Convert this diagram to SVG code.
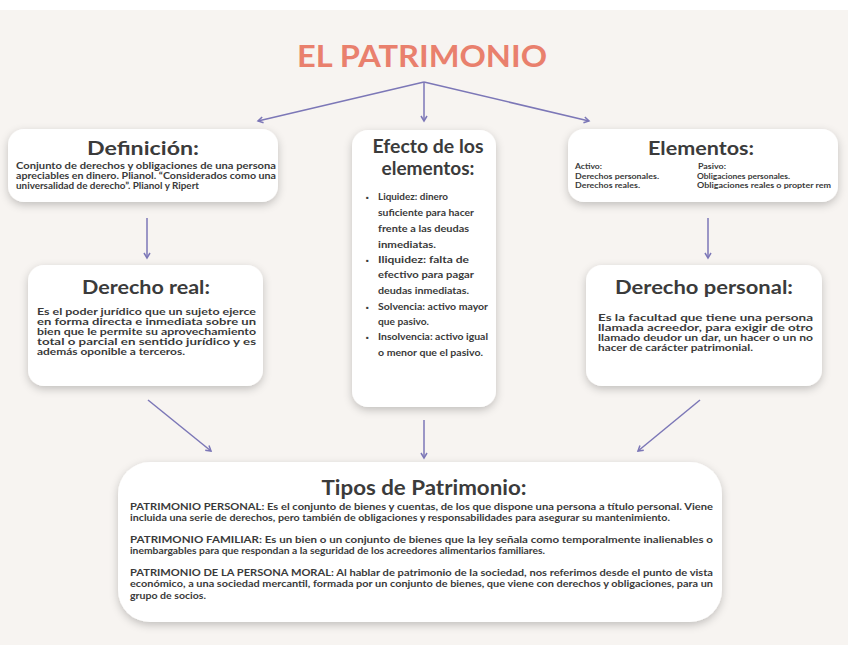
<svg xmlns="http://www.w3.org/2000/svg" width="848" height="655" viewBox="0 0 848 655">
<defs>
<filter id="sh" x="-20%" y="-20%" width="140%" height="150%">
<feDropShadow dx="0" dy="3" stdDeviation="4" flood-color="#000" flood-opacity="0.22"/>
</filter>
<marker id="ah" markerWidth="8" markerHeight="8" refX="6" refY="4" orient="auto" markerUnits="userSpaceOnUse">
<path d="M1,1 L6,4 L1,7" fill="none" stroke="#7C77B7" stroke-width="1.5"/>
</marker>
<style>
.box{fill:#fff;filter:url(#sh)}
.h{font-family:Lato,"Liberation Sans",sans-serif;font-weight:700;fill:#3b3b3b;text-anchor:middle}
.b{font-family:Lato,"Liberation Sans",sans-serif;font-weight:700;fill:#3a3a3a}
.c{fill:none;stroke:#7C77B7;stroke-width:1.5;marker-end:url(#ah)}
</style>
</defs>
<rect x="0" y="0" width="848" height="655" fill="#fff"/>
<rect x="0" y="10" width="848" height="635" fill="#F7F4F1"/>
<text x="422" y="67" font-family="Lato,'Liberation Sans',sans-serif" font-weight="700" font-size="30" fill="#E9806D" text-anchor="middle" textLength="250" lengthAdjust="spacingAndGlyphs">EL PATRIMONIO</text>

<g id="connectors">
<line class="c" x1="424" y1="82" x2="258" y2="121"/>
<line class="c" x1="424" y1="82" x2="424" y2="121"/>
<line class="c" x1="424" y1="82" x2="589" y2="121"/>
<line class="c" x1="147" y1="218" x2="147" y2="258"/>
<line class="c" x1="708" y1="218" x2="708" y2="258"/>
<line class="c" x1="148" y1="400" x2="211" y2="451"/>
<line class="c" x1="424" y1="420" x2="424" y2="458"/>
<line class="c" x1="700" y1="400" x2="638" y2="451"/>
</g>

<g id="definicion">
<rect class="box" x="8" y="129" width="270" height="73" rx="16"/>
<text class="h" x="143" y="155" font-size="19" textLength="112" lengthAdjust="spacingAndGlyphs">Definición:</text>
<text class="b" font-size="8.5"><tspan x="16" y="169" textLength="260" lengthAdjust="spacingAndGlyphs">Conjunto de derechos y obligaciones de una persona</tspan><tspan x="16" y="179" textLength="260" lengthAdjust="spacingAndGlyphs">apreciables en dinero. Plianol. “Considerados como una</tspan><tspan x="16" y="189" textLength="183" lengthAdjust="spacingAndGlyphs">universalidad de derecho”. Plianol y Ripert</tspan></text>
</g>

<g id="efecto">
<rect class="box" x="352" y="130" width="144" height="277" rx="16"/>
<text class="h" x="428" y="153" font-size="18" textLength="111" lengthAdjust="spacingAndGlyphs">Efecto de los</text>
<text class="h" x="428" y="175" font-size="18" textLength="93" lengthAdjust="spacingAndGlyphs">elementos:</text>
<g class="b" font-size="9">
<text x="366" y="200" font-size="7">▪</text>
<text x="378" y="200" textLength="70" lengthAdjust="spacingAndGlyphs">Liquidez: dinero</text>
<text x="378" y="216" textLength="96" lengthAdjust="spacingAndGlyphs">suficiente para hacer</text>
<text x="378" y="232" textLength="91" lengthAdjust="spacingAndGlyphs">frente a las deudas</text>
<text x="378" y="248" textLength="58" lengthAdjust="spacingAndGlyphs">inmediatas.</text>
<text x="366" y="263" font-size="7">▪</text>
<text x="378" y="263" textLength="91" lengthAdjust="spacingAndGlyphs">Iliquidez: falta de</text>
<text x="378" y="278" textLength="96" lengthAdjust="spacingAndGlyphs">efectivo para pagar</text>
<text x="378" y="294" textLength="91" lengthAdjust="spacingAndGlyphs">deudas inmediatas.</text>
<text x="366" y="310" font-size="7">▪</text>
<text x="378" y="310" textLength="110" lengthAdjust="spacingAndGlyphs">Solvencia: activo mayor</text>
<text x="378" y="325" textLength="51" lengthAdjust="spacingAndGlyphs">que pasivo.</text>
<text x="366" y="340" font-size="7">▪</text>
<text x="378" y="340" textLength="110" lengthAdjust="spacingAndGlyphs">Insolvencia: activo igual</text>
<text x="378" y="356" textLength="105" lengthAdjust="spacingAndGlyphs">o menor que el pasivo.</text>
</g>
</g>

<g id="elementos">
<rect class="box" x="568" y="129" width="270" height="73" rx="16"/>
<text class="h" x="701" y="155" font-size="19" textLength="106" lengthAdjust="spacingAndGlyphs">Elementos:</text>
<g class="b" font-size="8">
<text x="575" y="169" textLength="27" lengthAdjust="spacingAndGlyphs">Activo:</text>
<text x="575" y="179" textLength="84" lengthAdjust="spacingAndGlyphs">Derechos personales.</text>
<text x="575" y="188" textLength="65" lengthAdjust="spacingAndGlyphs">Derechos reales.</text>
<text x="698" y="169" textLength="28" lengthAdjust="spacingAndGlyphs">Pasivo:</text>
<text x="697" y="179" textLength="93" lengthAdjust="spacingAndGlyphs">Obligaciones personales.</text>
<text x="697" y="188" textLength="134" lengthAdjust="spacingAndGlyphs">Obligaciones reales o propter rem</text>
</g>
</g>

<g id="derecho-real">
<rect class="box" x="28" y="265" width="235" height="121" rx="16"/>
<text class="h" x="146" y="294" font-size="19" textLength="128" lengthAdjust="spacingAndGlyphs">Derecho real:</text>
<text class="b" font-size="9"><tspan x="37" y="315" textLength="219" lengthAdjust="spacingAndGlyphs">Es el poder jurídico que un sujeto ejerce</tspan><tspan x="37" y="325" textLength="219" lengthAdjust="spacingAndGlyphs">en forma directa e inmediata sobre un</tspan><tspan x="37" y="335" textLength="219" lengthAdjust="spacingAndGlyphs">bien que le permite su aprovechamiento</tspan><tspan x="37" y="345" textLength="219" lengthAdjust="spacingAndGlyphs">total o parcial en sentido jurídico y es</tspan><tspan x="37" y="355" textLength="148" lengthAdjust="spacingAndGlyphs">además oponible a terceros.</tspan></text>
</g>

<g id="derecho-personal">
<rect class="box" x="586" y="265" width="236" height="121" rx="16"/>
<text class="h" x="704" y="294" font-size="19" textLength="178" lengthAdjust="spacingAndGlyphs">Derecho personal:</text>
<text class="b" font-size="9"><tspan x="598" y="321" textLength="215" lengthAdjust="spacingAndGlyphs">Es la facultad que tiene una persona</tspan><tspan x="598" y="331" textLength="215" lengthAdjust="spacingAndGlyphs">llamada acreedor, para exigir de otro</tspan><tspan x="598" y="341" textLength="215" lengthAdjust="spacingAndGlyphs">llamado deudor un dar, un hacer o un no</tspan><tspan x="598" y="351" textLength="155" lengthAdjust="spacingAndGlyphs">hacer de carácter patrimonial.</tspan></text>
</g>

<g id="tipos">
<rect class="box" x="118" y="462" width="604" height="160" rx="32"/>
<text class="h" x="424" y="495" font-size="20" textLength="205" lengthAdjust="spacingAndGlyphs">Tipos de Patrimonio:</text>
<text class="b" font-size="9"><tspan x="130" y="510" textLength="583" lengthAdjust="spacingAndGlyphs">PATRIMONIO PERSONAL: Es el conjunto de bienes y cuentas, de los que dispone una persona a título personal. Viene</tspan><tspan x="130" y="521" textLength="540" lengthAdjust="spacingAndGlyphs">incluida una serie de derechos, pero también de obligaciones y responsabilidades para asegurar su mantenimiento.</tspan><tspan x="130" y="543" textLength="583" lengthAdjust="spacingAndGlyphs">PATRIMONIO FAMILIAR: Es un bien o un conjunto de bienes que la ley señala como temporalmente inalienables o</tspan><tspan x="130" y="554" textLength="415" lengthAdjust="spacingAndGlyphs">inembargables para que respondan a la seguridad de los acreedores alimentarios familiares.</tspan><tspan x="130" y="576" textLength="583" lengthAdjust="spacingAndGlyphs">PATRIMONIO DE LA PERSONA MORAL: Al hablar de patrimonio de la sociedad, nos referimos desde el punto de vista</tspan><tspan x="130" y="587" textLength="583" lengthAdjust="spacingAndGlyphs">económico, a una sociedad mercantil, formada por un conjunto de bienes, que viene con derechos y obligaciones, para un</tspan><tspan x="130" y="599" textLength="76" lengthAdjust="spacingAndGlyphs">grupo de socios.</tspan></text>
</g>
</svg>
